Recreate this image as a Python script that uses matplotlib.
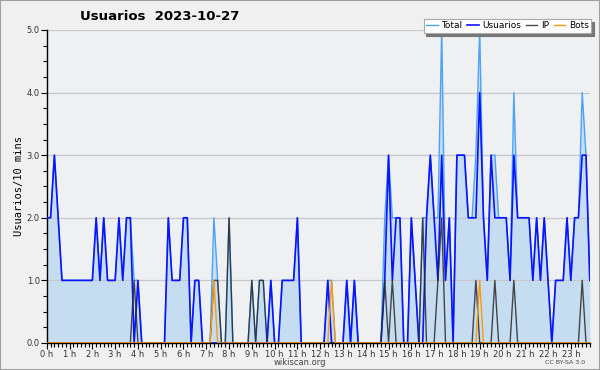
import numpy as np
import matplotlib.pyplot as plt
from matplotlib.patches import Rectangle
from matplotlib.ticker import FixedLocator, MultipleLocator

# 10-minute slots, 144 per day
usuarios = [2, 2, 3, 2, 1, 1, 1, 1, 1, 1, 1, 1,
            1, 2, 1, 2, 1, 1, 1, 2, 1, 2, 2, 0,
            1, 0, 0, 0, 0, 0, 0, 0, 2, 1, 1, 1,
            2, 2, 0, 1, 1, 0, 0, 0, 0, 0, 0, 0,
            0, 0, 0, 0, 0, 0, 0, 0, 0, 0, 0, 1,
            0, 0, 1, 1, 1, 1, 2, 0, 0, 0, 0, 0,
            0, 0, 1, 0, 0, 0, 0, 1, 0, 1, 0, 0,
            0, 0, 0, 0, 0, 1, 3, 1, 2, 2, 0, 0,
            2, 1, 0, 0, 2, 3, 2, 1, 3, 1, 2, 0,
            3, 3, 3, 2, 2, 2, 4, 2, 1, 3, 2, 2,
            2, 2, 1, 3, 2, 2, 2, 2, 1, 2, 1, 2,
            1, 0, 1, 1, 1, 2, 1, 2, 2, 3, 3, 1]
ip = [0, 0, 0, 0, 0, 0, 0, 0, 0, 0, 0, 0,
      0, 0, 0, 0, 0, 0, 0, 0, 0, 0, 0, 1,
      0, 0, 0, 0, 0, 0, 0, 0, 0, 0, 0, 0,
      0, 0, 0, 0, 0, 0, 0, 0, 1, 1, 0, 0,
      2, 0, 0, 0, 0, 0, 1, 0, 1, 1, 0, 0,
      0, 0, 0, 0, 0, 0, 0, 0, 0, 0, 0, 0,
      0, 0, 0, 0, 0, 0, 0, 0, 0, 0, 0, 0,
      0, 0, 0, 0, 0, 1, 0, 1, 0, 0, 0, 0,
      0, 0, 0, 2, 0, 0, 0, 1, 2, 0, 0, 0,
      0, 0, 0, 0, 0, 1, 0, 0, 0, 0, 1, 0,
      0, 0, 0, 1, 0, 0, 0, 0, 0, 0, 0, 0,
      0, 0, 0, 0, 0, 0, 0, 0, 0, 1, 0, 0]
bots = [0, 0, 0, 0, 0, 0, 0, 0, 0, 0, 0, 0,
        0, 0, 0, 0, 0, 0, 0, 0, 0, 0, 0, 0,
        0, 0, 0, 0, 0, 0, 0, 0, 0, 0, 0, 0,
        0, 0, 0, 0, 0, 0, 0, 0, 1, 0, 0, 0,
        0, 0, 0, 0, 0, 0, 0, 0, 0, 0, 0, 0,
        0, 0, 0, 0, 0, 0, 0, 0, 0, 0, 0, 0,
        0, 0, 0, 1, 0, 0, 0, 0, 0, 0, 0, 0,
        0, 0, 0, 0, 0, 0, 0, 0, 0, 0, 0, 0,
        0, 0, 0, 0, 0, 0, 0, 0, 0, 0, 0, 0,
        0, 0, 0, 0, 0, 0, 1, 0, 0, 0, 0, 0,
        0, 0, 0, 0, 0, 0, 0, 0, 0, 0, 0, 0,
        0, 0, 0, 0, 0, 0, 0, 0, 0, 0, 0, 0]
total = [2, 2, 3, 2, 1, 1, 1, 1, 1, 1, 1, 1,
         1, 2, 1, 2, 1, 1, 1, 2, 1, 2, 2, 1,
         1, 0, 0, 0, 0, 0, 0, 0, 2, 1, 1, 1,
         2, 2, 0, 1, 1, 0, 0, 0, 2, 1, 0, 0,
         2, 0, 0, 0, 0, 0, 1, 0, 1, 1, 0, 1,
         0, 0, 1, 1, 1, 1, 2, 0, 0, 0, 0, 0,
         0, 0, 1, 1, 0, 0, 0, 1, 0, 1, 0, 0,
         0, 0, 0, 0, 0, 2, 3, 2, 2, 2, 0, 0,
         2, 1, 0, 2, 2, 3, 2, 2, 5, 1, 2, 0,
         3, 3, 3, 2, 2, 3, 5, 2, 1, 3, 3, 2,
         2, 2, 1, 4, 2, 2, 2, 2, 1, 2, 1, 2,
         1, 0, 1, 1, 1, 2, 1, 2, 2, 4, 3, 1]
hour_labels = [f'{h} h' for h in range(24)]
y_ticks = [0, 1, 2, 3, 4, 5]

x = np.arange(len(total))

fig = plt.figure(figsize=(6, 3.7), dpi=100, facecolor='#f0f0f0')
ax = fig.add_axes([0.078, 0.073, 0.905, 0.846])
ax.set_facecolor('#eef0f2')

ax.fill_between(x, total, 0, color='#c6ddf1', lw=0, zorder=1)
ax.plot(x, total, color='#4aa3f7', lw=1.0, label='Total', zorder=3)
ax.plot(x, usuarios, color='#0a14ff', lw=1.2, label='Usuarios', zorder=4)
ax.plot(x, ip, color='#2a2a2a', lw=1.0, alpha=0.85, label='IP', zorder=5)
ax.plot(x, bots, color='#ff9a10', lw=1.0, label='Bots', zorder=6)

ax.set_xlim(0, 143)
ax.set_ylim(0, 5)
ax.xaxis.set_major_locator(FixedLocator(np.arange(0, 144, 6)))
ax.xaxis.set_minor_locator(MultipleLocator(1))
ax.set_xticklabels(hour_labels)
ax.yaxis.set_major_locator(FixedLocator(y_ticks))
ax.yaxis.set_minor_locator(FixedLocator(np.arange(0, 5.01, 0.25)))
ax.set_yticklabels([f'{v:.1f}' for v in y_ticks])
ax.tick_params(axis='both', which='major', labelsize=6, colors='black',
               labelcolor='#333333', length=4, width=0.8, pad=1)
ax.tick_params(axis='both', which='minor', length=3, width=0.8)
ax.grid(axis='y', color='#c8c8c8', lw=0.9, zorder=0)
for s in ['top', 'right']:
    ax.spines[s].set_visible(False)
for s in ['left', 'bottom']:
    ax.spines[s].set_linewidth(1.0)

ax.set_ylabel('Usuarios/10 mins', family='DejaVu Sans Mono', fontsize=7.5, labelpad=2)

fig.text(0.133, 0.955, 'Usuarios  2023-10-27', fontsize=9.5, fontweight='bold', va='center')
leg = ax.legend(ncol=4, loc='upper right', bbox_to_anchor=(0.985, 0.948),
                bbox_transform=fig.transFigure, fontsize=6.5, frameon=True, fancybox=False,
                shadow={'color': '#777777', 'alpha': 1}, edgecolor='#aaaaaa', borderpad=0.25,
                handlelength=1.3, handletextpad=0.4, columnspacing=0.5, borderaxespad=0)
leg.get_frame().set_facecolor('white')
leg.get_frame().set_linewidth(0.8)

fig.text(0.5, 0.02, 'wikiscan.org', fontsize=6, color='#444444', ha='center', va='center')
fig.text(0.942, 0.02, 'CC BY-SA 3.0', fontsize=4.5, color='#444444', ha='center', va='center')
fig.patches.append(Rectangle((0, 0), 1, 1, transform=fig.transFigure, fill=False,
                             edgecolor='#a0a0a0', lw=1.5))

fig.savefig('out.png', dpi=100, facecolor=fig.get_facecolor())
